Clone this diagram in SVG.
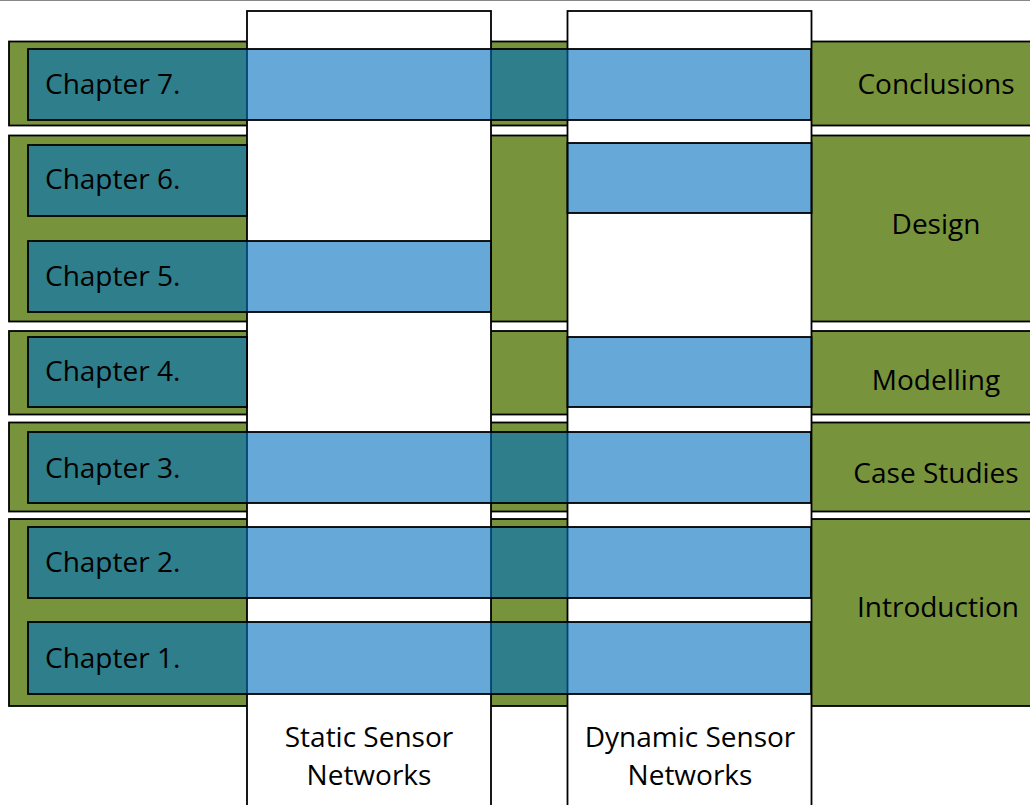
<svg xmlns="http://www.w3.org/2000/svg" width="1030" height="805" viewBox="0 0 1030 805">
  <style>
    .band { fill: #77933C; stroke: #000; stroke-width: 1.8; }
    .col { fill: #fff; stroke: #000; stroke-width: 1.8; }
    .chap { fill: #0070C0; fill-opacity: 0.6; stroke: #000; stroke-width: 1.8; }
    .lbl { font-family: "Open Sans", "Noto Sans", "Liberation Sans", sans-serif; font-size: 28px; fill: #000; }
    .mid { text-anchor: middle; }
  </style>
  <rect width="1030" height="805" fill="#fff"/>
  <line x1="0" y1="0.5" x2="1030" y2="0.5" stroke="#888" stroke-width="1"/>

  <!-- phase bands -->
  <g id="band-conclusions"><rect class="band" x="9" y="41.5" width="1040" height="84"/></g>
  <g id="band-design"><rect class="band" x="9" y="135.5" width="1040" height="186"/></g>
  <g id="band-modelling"><rect class="band" x="9" y="331" width="1040" height="83.5"/></g>
  <g id="band-case-studies"><rect class="band" x="9" y="422.5" width="1040" height="89"/></g>
  <g id="band-introduction"><rect class="band" x="9" y="519" width="1040" height="187"/></g>

  <!-- network type columns -->
  <g id="col-static"><rect class="col" x="247" y="11" width="244" height="810"/></g>
  <g id="col-dynamic"><rect class="col" x="567.5" y="11" width="244" height="810"/></g>

  <!-- chapters -->
  <g id="chapter7">
    <rect class="chap" x="28" y="49" width="783" height="71"/>
    <text class="lbl" x="45" y="94">Chapter 7.</text>
  </g>
  <g id="chapter6">
    <rect class="chap" x="28" y="145" width="219" height="71"/>
    <rect class="chap" x="567.5" y="143" width="244" height="70"/>
    <text class="lbl" x="45" y="189">Chapter 6.</text>
  </g>
  <g id="chapter5">
    <rect class="chap" x="28" y="241" width="463" height="71"/>
    <text class="lbl" x="45" y="286">Chapter 5.</text>
  </g>
  <g id="chapter4">
    <rect class="chap" x="28" y="337" width="219" height="70"/>
    <rect class="chap" x="567.5" y="337" width="244" height="70"/>
    <text class="lbl" x="45" y="381">Chapter 4.</text>
  </g>
  <g id="chapter3">
    <rect class="chap" x="28" y="432" width="783" height="71"/>
    <text class="lbl" x="45" y="478">Chapter 3.</text>
  </g>
  <g id="chapter2">
    <rect class="chap" x="28" y="527" width="783" height="71"/>
    <text class="lbl" x="45" y="572">Chapter 2.</text>
  </g>
  <g id="chapter1">
    <rect class="chap" x="28" y="622" width="783" height="72"/>
    <text class="lbl" x="45" y="668">Chapter 1.</text>
  </g>

  <!-- phase labels -->
  <g id="phase-labels">
    <text class="lbl mid" x="936" y="94">Conclusions</text>
    <text class="lbl mid" x="936" y="234">Design</text>
    <text class="lbl mid" x="936" y="390">Modelling</text>
    <text class="lbl mid" x="936" y="483">Case Studies</text>
    <text class="lbl mid" x="938" y="617">Introduction</text>
  </g>

  <!-- column labels -->
  <g id="column-labels">
    <text class="lbl mid" x="369" y="747">Static Sensor</text>
    <text class="lbl mid" x="369" y="785">Networks</text>
    <text class="lbl mid" x="690" y="747">Dynamic Sensor</text>
    <text class="lbl mid" x="690" y="785">Networks</text>
  </g>
</svg>
